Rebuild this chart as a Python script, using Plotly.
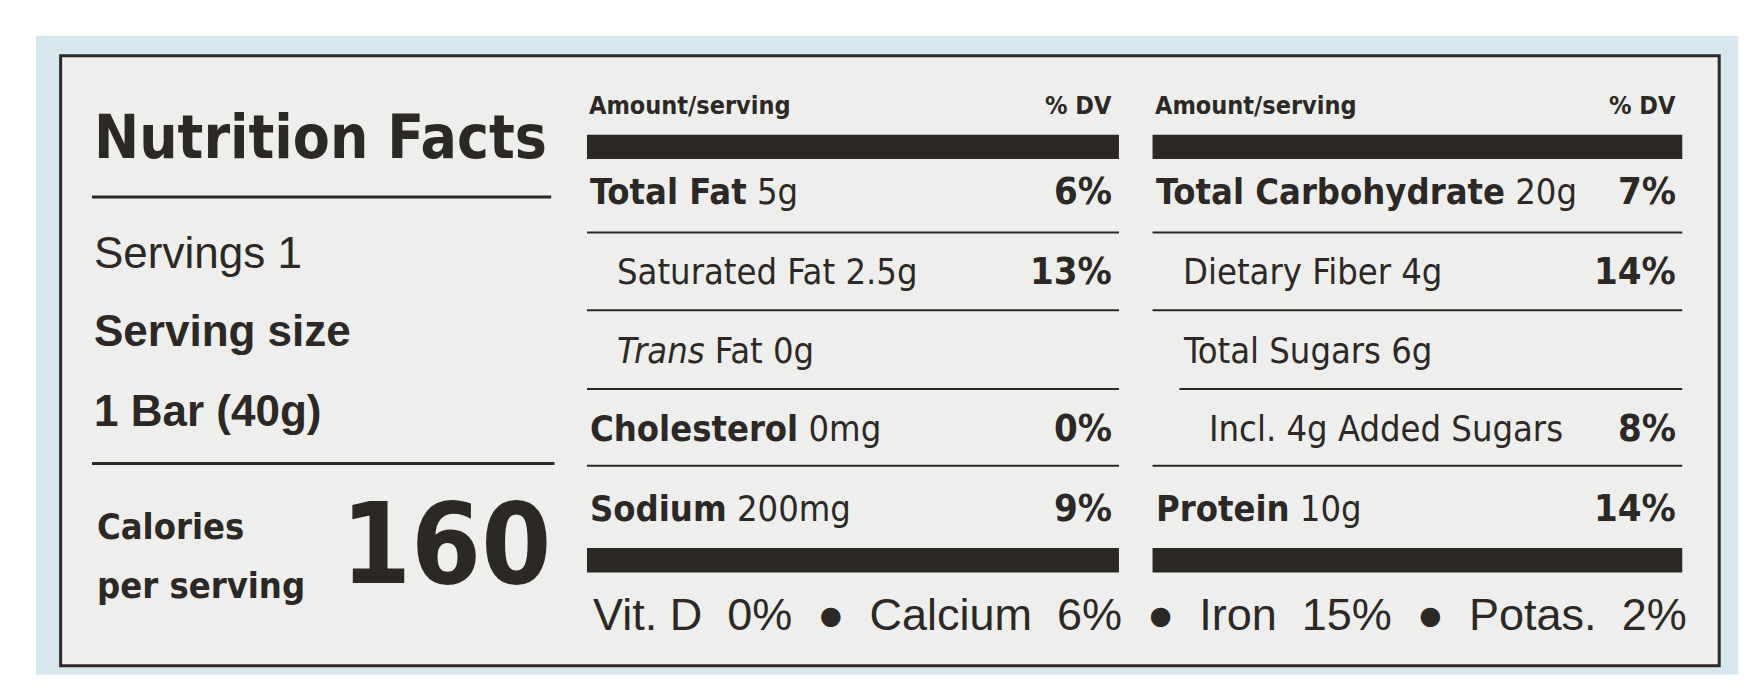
import plotly.graph_objects as go

left_rows = ["Total Fat", "Saturated Fat", "Trans Fat", "Cholesterol", "Sodium"]
left_amts = ["5g", "2.5g", "0g", "0mg", "200mg"]
left_dv = ["6%", "13%", "", "0%", "9%"]
left_bold = [True, False, False, True, True]
left_indent = [0, 1, 1, 0, 0]

right_rows = ["Total Carbohydrate", "Dietary Fiber", "Total Sugars", "Incl. 4g Added Sugars", "Protein"]
right_amts = ["20g", "4g", "6g", "", "10g"]
right_dv = ["7%", "14%", "", "8%", "14%"]
right_bold = [True, False, False, False, True]
right_indent = [0, 1, 1, 2, 0]

vitamins = ["Vit. D  0%", "Calcium  6%", "Iron  15%", "Potas.  2%"]
servings = "1"
serving_size = "1 Bar (40g)"
calories = "160"

NARROW = "Liberation Sans Narrow, DejaVu Sans Condensed, Arial Narrow"
SANS = "Liberation Sans, DejaVu Sans"
INK = "#2b2826"

fig = go.Figure()
shapes = []
ann = []


def text(x, y, s, size, anchor="left", fam=NARROW):
    ann.append(dict(x=x, y=y, text=s, showarrow=False, xanchor=anchor, yanchor="middle",
                    font=dict(size=size, color=INK, family=fam)))


def line(x0, x1, y, w=2):
    shapes.append(dict(type="line", x0=x0, x1=x1, y0=y, y1=y, line=dict(color=INK, width=w)))


def bar(x0, x1, y0, y1):
    shapes.append(dict(type="rect", x0=x0, x1=x1, y0=y0, y1=y1, fillcolor=INK, line=dict(width=0)))


shapes.append(dict(type="rect", x0=25, x1=1545, y0=25, y1=600, fillcolor="#d6e7ee", line=dict(width=0), layer="below"))
shapes.append(dict(type="rect", x0=47, x1=1528, y0=43, y1=592, fillcolor="#eeefec", line=dict(color=INK, width=3), layer="below"))

# left block
text(75, 116, "<b>Nutrition Facts</b>", 60)
line(75, 485, 170, 3)
text(75, 220, "Servings " + servings, 44, fam=SANS)
text(75, 290, "<b>Serving size</b>", 44, fam=SANS)
text(75, 362, "<b>" + serving_size + "</b>", 44, fam=SANS)
line(75, 488, 410, 3)
text(78, 467, "<b>Calories</b>", 36)
text(78, 520, "<b>per serving</b>", 36)
text(487, 482, "<b>" + calories + "</b>", 112, anchor="right")

ys = [165, 237, 308, 378, 450]
lines_y = [202, 272, 343, 412]


def column(x0, x1, rows, amts, dvs, bolds, indents, sub_line_indent):
    text(x0, 88, "<b>Amount/serving</b>", 25)
    text(x1 - 4, 88, "<b>% DV</b>", 25, anchor="right")
    bar(x0, x1, 114, 136)
    for i, (r, a, d, b, ind) in enumerate(zip(rows, amts, dvs, bolds, indents)):
        if r == "Trans Fat":
            lab = "<i>Trans</i> Fat"
        else:
            lab = "<b>" + r + "</b>" if b else r
        s = lab + (" " + a if a else "")
        text(x0 + 1 + ind * 24, ys[i], s, 36)
        if d:
            text(x1 - 4, ys[i], "<b>" + d + "</b>", 38, anchor="right")
    for j, yl in enumerate(lines_y):
        line(x0 + (sub_line_indent if j == 2 else 0), x1, yl, 2)
    bar(x0, x1, 486, 508)


column(517, 992, left_rows, left_amts, left_dv, left_bold, left_indent, 0)
column(1022, 1495, right_rows, right_amts, right_dv, right_bold, right_indent, 24)

text(521, 546, "  <b>\u25cf</b>  ".join(vitamins), 45, fam=SANS)

fig.update_layout(
    width=1756, height=700, margin=dict(l=0, r=0, t=0, b=0),
    paper_bgcolor="white", plot_bgcolor="white",
    xaxis=dict(range=[0, 1568], visible=False, fixedrange=True),
    yaxis=dict(range=[630, 0], visible=False, fixedrange=True),
    shapes=shapes, annotations=ann, showlegend=False,
)
fig.write_html("out.html")
